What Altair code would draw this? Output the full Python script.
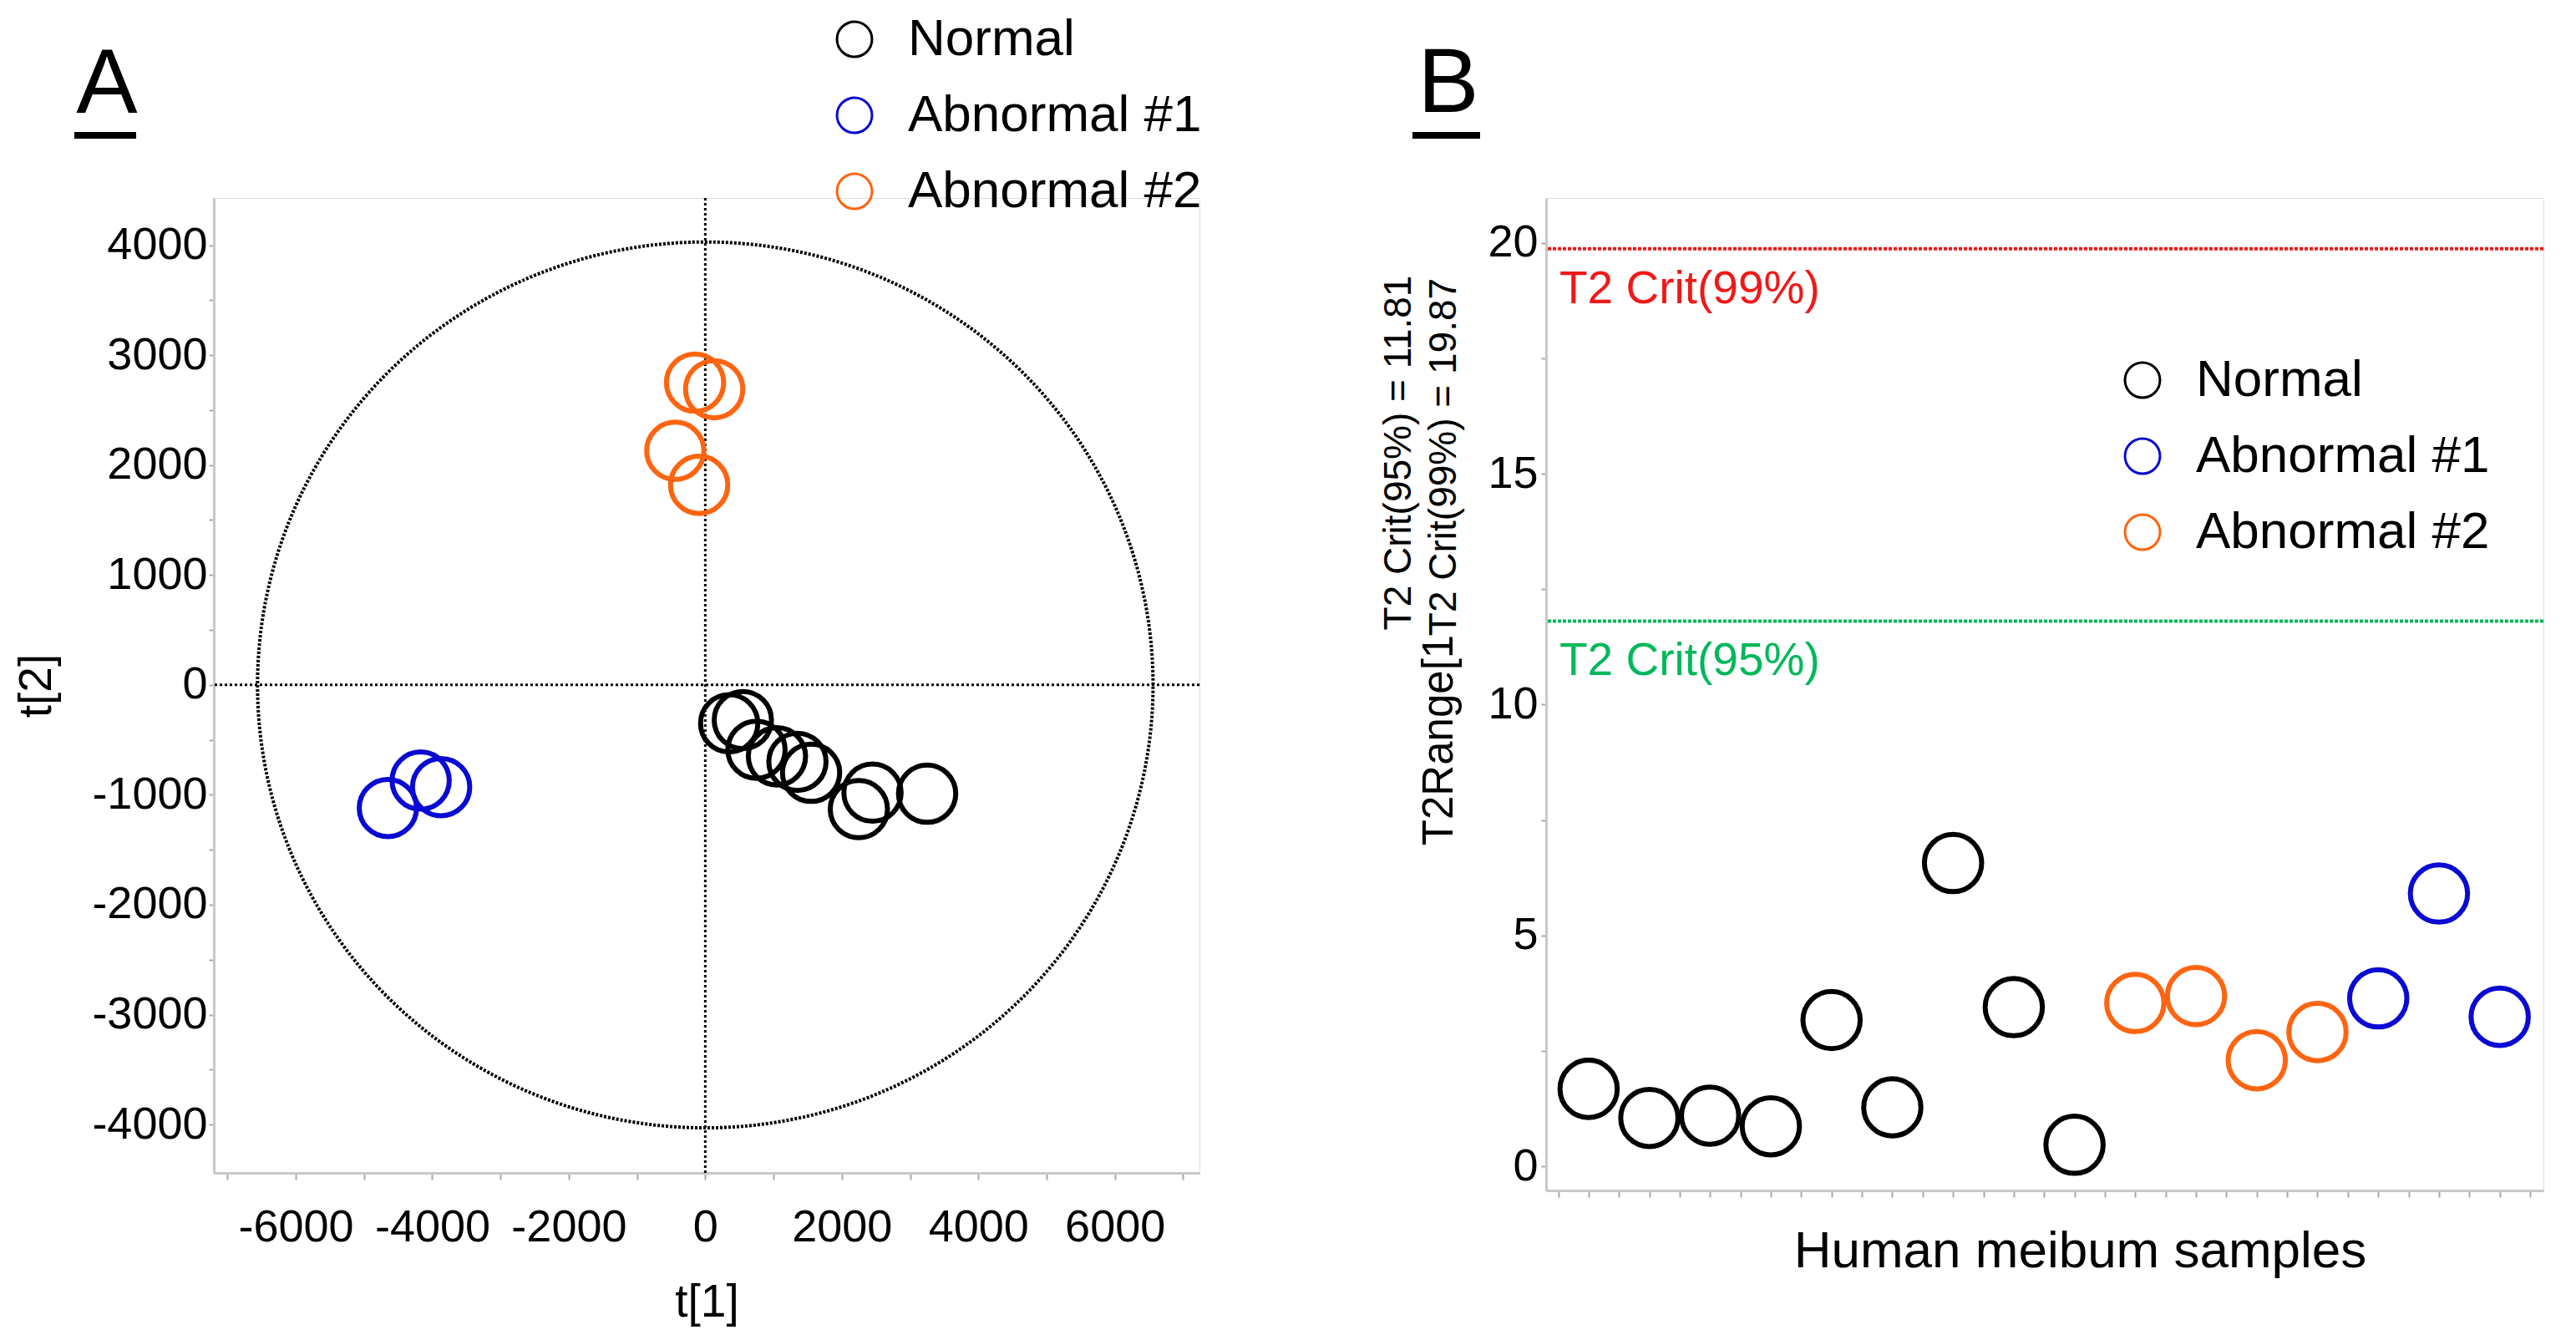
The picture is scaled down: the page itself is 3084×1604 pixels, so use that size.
import altair as alt
import pandas as pd
import numpy as np

FONT = "Liberation Sans"
GROUPS = ["Normal", "Abnormal #1", "Abnormal #2"]
COLORS = ["#000000", "#0a0ad2", "#ff6410"]

# ---------------- Panel A data (PCA scores) ----------------
A_normal_t1 = [350, 550, 750, 1050, 1350, 1550, 2250, 2450, 3250]
A_normal_t2 = [-350, -320, -590, -650, -700, -800, -1130, -980, -990]
A_abn1_t1 = [-4650, -4170, -3870]
A_abn1_t2 = [-1120, -870, -930]
A_abn2_t1 = [-150, 130, -440, -90]
A_abn2_t2 = [2750, 2690, 2130, 1820]
ELLIPSE_RX = 6560
ELLIPSE_RY = 4030

# ---------------- Panel B data (Hotelling T2 range) ----------------
B_sample = list(range(1, 17))
B_t2 = [1.68, 1.05, 1.10, 0.87, 3.17, 1.28, 6.57, 3.45, 0.47,
        3.54, 3.69, 2.30, 2.91, 3.64, 5.91, 3.24]
B_group = ["Normal"] * 9 + ["Abnormal #2"] * 4 + ["Abnormal #1"] * 3
T2_CRIT_99 = 19.87
T2_CRIT_95 = 11.81

dfA = pd.DataFrame({
    "t1": A_normal_t1 + A_abn1_t1 + A_abn2_t1,
    "t2": A_normal_t2 + A_abn1_t2 + A_abn2_t2,
    "group": ["Normal"] * len(A_normal_t1) + ["Abnormal #1"] * len(A_abn1_t1)
             + ["Abnormal #2"] * len(A_abn2_t1),
})
ang = np.linspace(0, 2 * np.pi, 721)
df_ell = pd.DataFrame({"t1": ELLIPSE_RX * np.cos(ang), "t2": ELLIPSE_RY * np.sin(ang),
                       "i": np.arange(len(ang))})
dfB = pd.DataFrame({"s": B_sample, "v": B_t2, "group": B_group})

axis_common = dict(domainColor="#c8c8c8", domainWidth=3, tickColor="#a8a8a8", tickWidth=2,
                   labelFont=FONT, labelFontSize=54, labelColor="black",
                   titleFont=FONT, titleColor="black", titleFontWeight="normal",
                   grid=False, labelFlush=False, labelOverlap=False)

def legend(x, y):
    return alt.Legend(title=None, orient="none", legendX=x, legendY=y,
                      direction="vertical", symbolType="circle", symbolSize=1760,
                      symbolStrokeWidth=3, symbolOpacity=1, labelFont=FONT,
                      labelFontSize=62, labelColor="black", labelOffset=33, labelLimit=0,
                      rowPadding=29, padding=0)

MARK_SIZE = 4700

# ---------------- Panel A ----------------
xsA = alt.Scale(domain=[-7200, 7240], nice=False, zero=False)
ysA = alt.Scale(domain=[-4440, 4430], nice=False, zero=False)
axA_x = alt.Axis(values=list(range(-7000, 7001, 1000)),
                 labelExpr="datum.value % 2000 == 0 ? '' + datum.value : ''",
                 tickSize=8, labelPadding=30, title="t[1]", titleFontSize=55, titlePadding=36,
                 **axis_common)
axA_y = alt.Axis(values=list(range(-4000, 4001, 500)),
                 labelExpr="datum.value % 1000 == 0 ? '' + datum.value : ''",
                 tickSize=6, labelPadding=2, title="t[2]", titleFontSize=55, titlePadding=37,
                 **axis_common)

def encA(c):
    return c.encode(x=alt.X("t1:Q", scale=xsA, axis=axA_x), y=alt.Y("t2:Q", scale=ysA, axis=axA_y))

ell = encA(alt.Chart(df_ell).mark_line(color="black", strokeWidth=4, strokeDash=[3, 2])).encode(order="i:Q")
vline = alt.Chart(pd.DataFrame({"v": [0]})).mark_rule(color="black", strokeWidth=3, strokeDash=[3, 3]).encode(
    x=alt.X("v:Q", scale=xsA, axis=axA_x))
hline = alt.Chart(pd.DataFrame({"v": [0]})).mark_rule(color="black", strokeWidth=3, strokeDash=[3, 3]).encode(
    y=alt.Y("v:Q", scale=ysA, axis=axA_y))
ptsA = encA(alt.Chart(dfA).mark_point(shape="circle", filled=False, size=MARK_SIZE, strokeWidth=6,
                                      opacity=1)).encode(
    color=alt.Color("group:N", scale=alt.Scale(domain=GROUPS, range=COLORS), legend=legend(736, -221)))
labA = alt.Chart(pd.DataFrame({"t": ["A"]})).mark_text(font=FONT, fontSize=110, align="center",
                                                       baseline="alphabetic", color="black").encode(
    x=alt.value(-128), y=alt.value(-102), text="t:N")
ulA = alt.Chart(pd.DataFrame({"t": [0]})).mark_rule(color="black", strokeWidth=8).encode(
    x=alt.value(-167), x2=alt.value(-93), y=alt.value(-75))

panelA = alt.layer(ell, vline, hline, ptsA, labA, ulA).properties(width=1180, height=1167)

# ---------------- Panel B ----------------
xsB = alt.Scale(domain=[0.3, 16.72], nice=False, zero=False)
ysB = alt.Scale(domain=[-0.52, 20.97], nice=False, zero=False)
axB_x = alt.Axis(values=[i / 2 for i in range(1, 34)], labels=False, tickSize=8,
                 title="Human meibum samples", titleFontSize=62, titleX=639, titleY=72,
                 titleAlign="center", titleBaseline="middle", **axis_common)
axB_y = alt.Axis(values=[i * 2.5 for i in range(0, 9)],
                 labelExpr="datum.value % 5 == 0 ? '' + datum.value : ''",
                 tickSize=6, labelPadding=4, title=None, **axis_common)

ptsB = alt.Chart(dfB).mark_point(shape="circle", filled=False, size=MARK_SIZE, strokeWidth=6,
                                 opacity=1).encode(
    x=alt.X("s:Q", scale=xsB, axis=axB_x), y=alt.Y("v:Q", scale=ysB, axis=axB_y),
    color=alt.Color("group:N", scale=alt.Scale(domain=GROUPS, range=COLORS), legend=legend(683, 187)))

def crit(value, label, color):
    d = pd.DataFrame({"v": [value], "lab": [label]})
    rule = alt.Chart(d).mark_rule(color=color, strokeWidth=4, strokeDash=[4, 2]).encode(
        y=alt.Y("v:Q", scale=ysB, axis=axB_y))
    txt = alt.Chart(d).mark_text(font=FONT, fontSize=55, align="left", baseline="middle",
                                 dy=48, color=color).encode(
        x=alt.value(16), y=alt.Y("v:Q", scale=ysB, axis=axB_y), text="lab:N")
    return rule + txt

c99 = crit(T2_CRIT_99, "T2 Crit(99%)", "#f01818")
c95 = crit(T2_CRIT_95, "T2 Crit(95%)", "#00b85a")

def rot(text, x, y, size):
    return alt.Chart(pd.DataFrame({"t": [text]})).mark_text(
        font=FONT, fontSize=size, angle=270, align="center", baseline="middle", color="black").encode(
        x=alt.value(x), y=alt.value(y), text="t:N")

r95 = rot(f"T2 Crit(95%) = {T2_CRIT_95}", -176, 305, 46)
rRange = rot("T2Range[1", -127, 649, 51)
r99 = rot(f"T2 Crit(99%) = {T2_CRIT_99}", -122, 310, 46)

labB = alt.Chart(pd.DataFrame({"t": ["B"]})).mark_text(font=FONT, fontSize=110, align="center",
                                                       baseline="alphabetic", color="black").encode(
    x=alt.value(-117), y=alt.value(-103), text="t:N")
ulB = alt.Chart(pd.DataFrame({"t": [0]})).mark_rule(color="black", strokeWidth=8).encode(
    x=alt.value(-160), x2=alt.value(-79), y=alt.value(-75))

panelB = alt.layer(c99, c95, ptsB, r95, rRange, r99, labB, ulB).properties(width=1194, height=1188)

chart = alt.hconcat(panelA, panelB, spacing=415, bounds="flush").resolve_scale(
    color="independent").properties(
    padding={"left": 8, "top": 7, "right": 5, "bottom": 5}
).configure_view(strokeWidth=0).configure(background="white")

chart.save("out.html", embed_options={"renderer": "svg", "actions": False})
